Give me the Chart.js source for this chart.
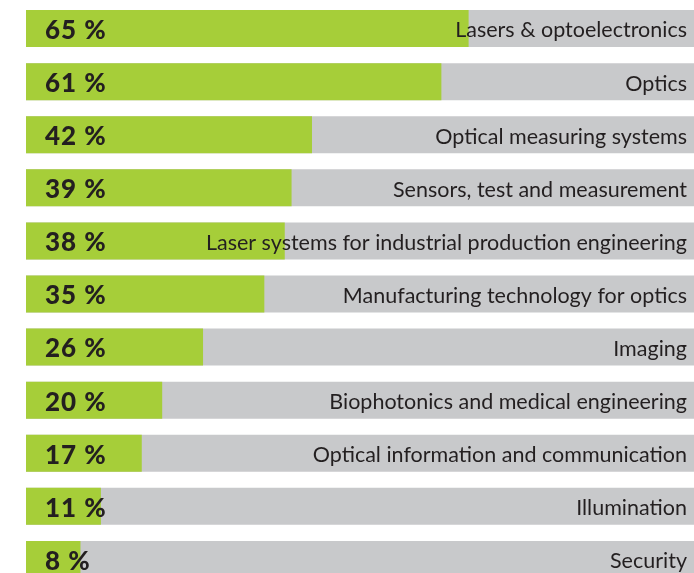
<!DOCTYPE html>
<html>
<head>
<meta charset="utf-8">
<script src="https://cdn.jsdelivr.net/npm/chart.js@4/dist/chart.umd.min.js"></script>
<style>
  html, body { margin: 0; padding: 0; background: #fff; overflow: hidden; }
  #wrap { position: relative; width: 694px; height: 586px; }
</style>
</head>
<body>
<div id="wrap"><canvas id="sectors"></canvas></div>
<script>
const categories = [
  'Lasers & optoelectronics',
  'Optics',
  'Optical measuring systems',
  'Sensors, test and measurement',
  'Laser systems for industrial production engineering',
  'Manufacturing technology for optics',
  'Imaging',
  'Biophotonics and medical engineering',
  'Optical information and communication',
  'Illumination',
  'Security'
];
const shares = [65, 61, 42, 39, 38, 35, 26, 20, 17, 11, 8];
const totals = [100, 100, 100, 100, 100, 100, 100, 100, 100, 100, 100];

const labelPlugin = {
  id: 'barLabels',
  afterDatasetsDraw(chart) {
    const ctx = chart.ctx;
    const x = chart.scales.x;
    const area = chart.chartArea;
    const bars = chart.getDatasetMeta(0).data;
    ctx.save();
    ctx.fillStyle = '#231f20';
    ctx.textBaseline = 'middle';
    bars.forEach((bar, i) => {
      ctx.font = '900 26px Lato';
      ctx.textAlign = 'left';
      ctx.letterSpacing = '1px';
      ctx.fillText(shares[i] + ' %', x.getPixelForValue(0) + 19, bar.y + 2);
      ctx.letterSpacing = '0px';
      ctx.font = '21.5px Lato';
      ctx.textAlign = 'right';
      ctx.fillText(categories[i], area.right - 7, bar.y + 2);
    });
    ctx.restore();
  }
};

new Chart(document.getElementById('sectors'), {
  type: 'bar',
  data: {
    labels: categories,
    datasets: [
      { data: shares, backgroundColor: '#a6ce39', grouped: false },
      { data: totals, backgroundColor: '#c8c9cb', grouped: false }
    ]
  },
  options: {
    indexAxis: 'y',
    responsive: true,
    maintainAspectRatio: false,
    animation: false,
    layout: { padding: { left: 26, top: 2, right: 0, bottom: 0 } },
    datasets: { bar: { categoryPercentage: 1, barPercentage: 0.697 } },
    scales: {
      x: { display: false, min: 0, max: 98.1 },
      y: { display: false }
    },
    plugins: { legend: { display: false }, tooltip: { enabled: false } }
  },
  plugins: [labelPlugin]
});
</script>
</body>
</html>
